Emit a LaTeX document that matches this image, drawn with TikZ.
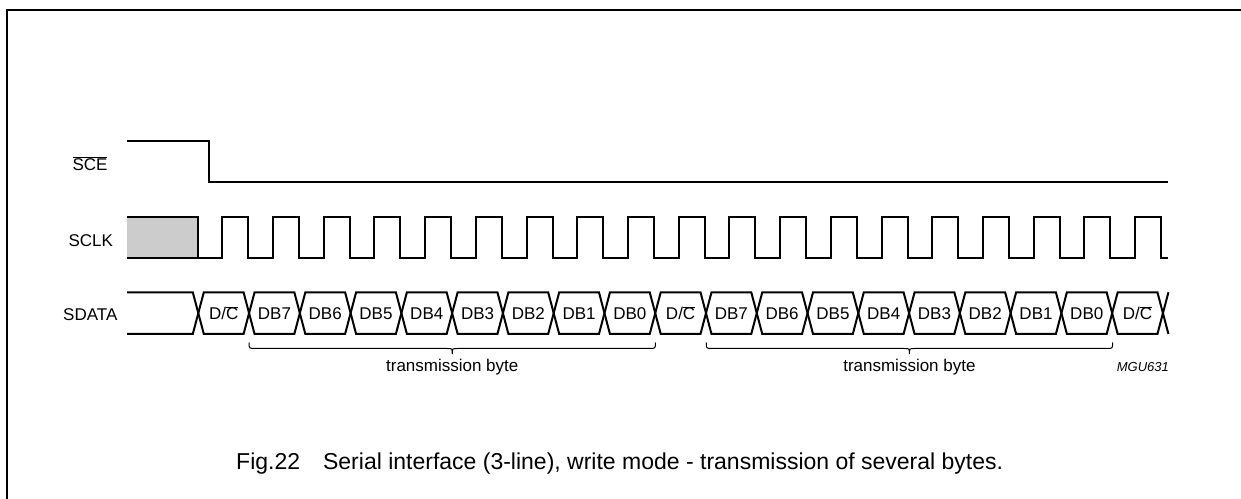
\documentclass[tikz,border=0pt]{standalone}
\usepackage{fontspec}
\setmainfont{Liberation Sans}
\newcommand{\ovbar}[1]{$\overline{\mbox{#1}}$}
\begin{document}
\begin{tikzpicture}[x=1bp,y=-1bp,
  sig/.style={line width=2bp},
  frame/.style={line width=2bp},
  bracestyle/.style={line width=1bp},
  lbl/.style={font=\fontsize{17bp}{20bp}\selectfont, inner sep=0pt, anchor=base},
  celltext/.style={font=\fontsize{17bp}{20bp}\selectfont, inner sep=0pt, anchor=base},
  captext/.style={font=\fontsize{23bp}{27bp}\selectfont, inner sep=0pt, anchor=base west},
  idtext/.style={font=\fontsize{13bp}{15bp}\selectfont\itshape, inner sep=0pt, anchor=base west}]
\useasboundingbox (0,0) rectangle (1241,499);
\fill[white] (-2,-2) rectangle (1243,501);
% frame
\draw[frame] (1243,10) -- (7,10) -- (7,501);
% signal labels
\node[lbl] (lSCE) at (90,170.7) {\ovbar{SCE}};
\node[lbl] (lSCLK) at (90.8,246.7) {SCLK};
\node[lbl] (lSDATA) at (90.3,320.7) {SDATA};
% SCE
\draw[sig] (127,141) -- (209,141) -- (209,182) -- (1168,182);
% SCLK
\fill[gray!40] (127,217) rectangle (197.6,258);
\draw[sig] (127,217) -- (197.6,217) -- (197.6,258);
\draw[sig] (127,258) -- (197.6,258)
  \foreach \k in {0,...,18} { -- (222.3+\k*50.71,258) -- (222.3+\k*50.71,217) -- (248.3+\k*50.71,217) -- (248.3+\k*50.71,258) }
  -- (1168,258);
% SDATA
\def\yt{292.3}
\def\yb{334}
\def\ym{313.15}
\def\hx{5.5}
\def\pp{50.77}
\draw[sig] (127,\yt) -- (198.3-\hx,\yt) -- (198.3,\ym) -- (198.3-\hx,\yb) -- (127,\yb);
\foreach \k in {0,...,18} {
  \draw[sig] (198.3+\k*\pp,\ym) -- (198.3+\k*\pp+\hx,\yt) -- (198.3+\k*\pp+\pp-\hx,\yt) -- (198.3+\k*\pp+\pp,\ym) -- (198.3+\k*\pp+\pp-\hx,\yb) -- (198.3+\k*\pp+\hx,\yb) -- cycle;
}
\draw[sig] (198.3+19*\pp+\hx,\yt) -- (198.3+19*\pp,\ym) -- (198.3+19*\pp+\hx,\yb);
\foreach \t [count=\i from 0] in {D/\ovbar{C},DB7,DB6,DB5,DB4,DB3,DB2,DB1,DB0,D/\ovbar{C},DB7,DB6,DB5,DB4,DB3,DB2,DB1,DB0,D/\ovbar{C}} {
  \node[celltext] (cell\i) at (198.3+\i*\pp+\pp/2,320) {\t};
}
% braces
\foreach \a/\b/\n in {249.07/655.46/1, 706.23/1112.62/2} {
  \pgfmathsetmacro\m{(\a+\b)/2}
  \draw[bracestyle] (\a,342.5) .. controls (\a,348.5) .. (\a+6,348.5) -- (\m-5,348.5) .. controls (\m,348.5) .. (\m,354) .. controls (\m,348.5) .. (\m+5,348.5) -- (\b-6,348.5) .. controls (\b,348.5) .. (\b,342.5);
  \node[celltext] (tb\n) at (\m,371.5) {transmission byte};
}
\node[idtext] (mgu) at (1116.7,371.7) {MGU631};
% caption
\node[captext] (cap) at (236,469.3) {Fig.22\quad Serial interface (3-line), write mode - transmission of several bytes.};
\end{tikzpicture}
\end{document}
